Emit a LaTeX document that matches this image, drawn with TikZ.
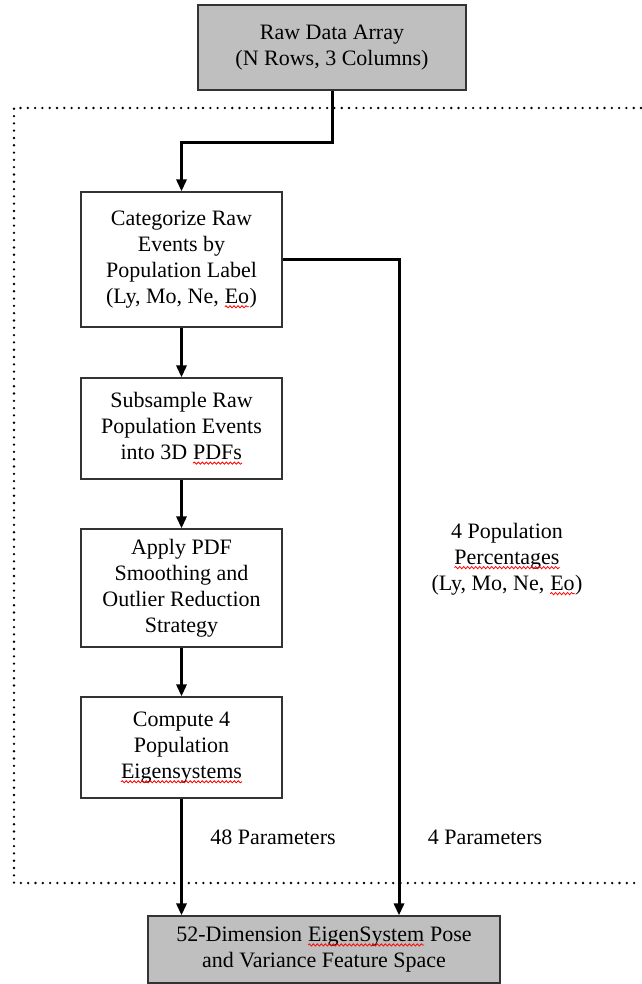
\documentclass[tikz,border=0pt]{standalone}
\usepackage{fontspec}
\setmainfont{Liberation Serif}
\usetikzlibrary{arrows.meta,positioning,decorations.pathmorphing}
\tikzset{stagebox/.style={draw=black!80, line width=1.2pt, inner sep=0pt, align=center,
    minimum width=201pt, font=\fontsize{22}{26}\selectfont},
  databox/.style={stagebox, fill=black!25},
  flow/.style={line width=3pt, -{Triangle[width=10pt,length=12pt]}},
  note/.style={align=center, font=\fontsize{22}{26}\selectfont}
}
% red spell-check squiggle under a word
\newcommand{\squig}[1]{\tikz[baseline=(sqw.base)]{\node[inner sep=0pt, outer sep=0pt,
    minimum width=0pt, minimum height=0pt, draw=none, fill=none] (sqw) {#1};
  \draw[red, line width=0.8pt, decorate, decoration={snake, amplitude=1.1pt, segment length=4pt}]
    ([yshift=-3.5pt]sqw.base west) -- ([yshift=-3.5pt]sqw.base east);}}

\begin{document}
\begin{tikzpicture}[x=1pt, y=-1pt]
        \useasboundingbox (0,0) rectangle (641,984);
        \node[databox, minimum width=268pt, minimum height=85pt] (raw) at (332,47.5)
            {Raw Data Array\\(N Rows, 3 Columns)};
        \node[stagebox, minimum height=135pt] (cat) at (181.5,259.5)
            {Categorize Raw\\Events by\\Population Label\\(Ly, Mo, Ne, \squig{Eo})};
        \node[stagebox, minimum height=101pt] (sub) at (181.5,428.5)
            {Subsample Raw\\Population Events\\into 3D \squig{PDFs}};
        \node[stagebox, minimum height=118pt] (smo) at (181.5,588)
            {Apply PDF\\Smoothing and\\Outlier Reduction\\Strategy};
        \node[stagebox, minimum height=101pt] (eig) at (181.5,747.5)
            {Compute 4\\Population\\\squig{Eigensystems}};
        \node[databox, minimum width=352pt, minimum height=67pt] (feat) at (324,949.5)
            {52-Dimension \squig{EigenSystem} Pose\\and Variance Feature Space};

        \node[note] (pct) at (507,559) {4 Population\\\squig{Percentages}\\(Ly, Mo, Ne, \squig{Eo})};
        \node[note] (p48) at (273,837) {48 Parameters};
        \node[note] (p4)  at (485,837) {4 Parameters};
        \coordinate (rail) at (399,0);

        % dotted processing frame, open to the right
        \draw[line width=2.6pt, line cap=round, dash pattern=on 0pt off 7.3pt]
            (641,108) -- (14,108) -- (14,883) -- (641,883);

        \draw[flow] (raw.south) -- ++(0,52) -| (cat.north);
        \draw[flow] (cat) -- (sub);
        \draw[flow] (sub) -- (smo);
        \draw[flow] (smo) -- (eig);
        \draw[flow] (eig.south) -- (eig.south |- feat.north);
        \draw[flow] (cat.east) -| (feat.north -| rail);
\end{tikzpicture}
\end{document}
